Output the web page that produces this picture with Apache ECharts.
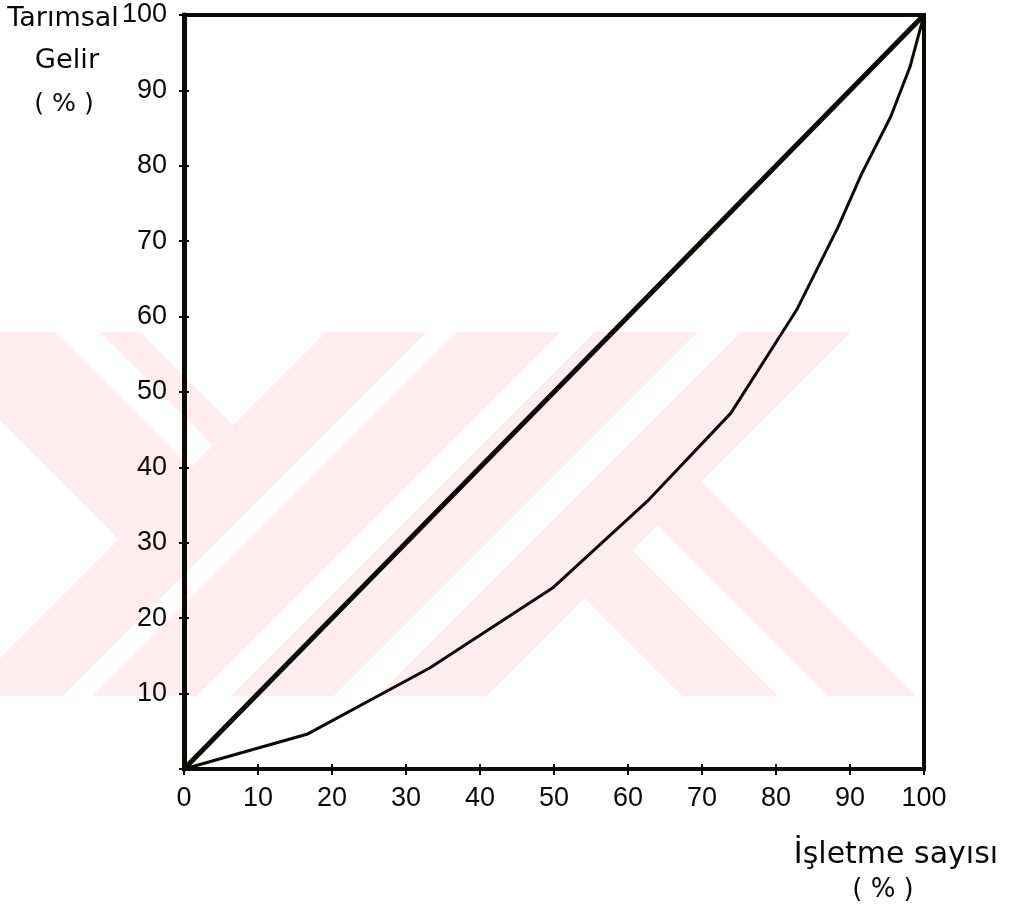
<!DOCTYPE html>
<html>
<head>
<meta charset="utf-8">
<script src="https://cdn.jsdelivr.net/npm/echarts@6/dist/echarts.min.js"></script>
<style>
  html, body { margin: 0; padding: 0; background: #ffffff; }
  #chart { width: 1017px; height: 908px; }
</style>
</head>
<body>
<div id="chart"></div>
<script>
// ---- data ----
const xTickValues = [0, 10, 20, 30, 40, 50, 60, 70, 80, 90, 100];
const xTickLabels = ['0', '10', '20', '30', '40', '50', '60', '70', '80', '90', '100'];
const yTickLabels = ['', '10', '20', '30', '40', '50', '60', '70', '80', '90', '100'];

const equalityFarms  = [0, 100];
const equalityIncome = [0, 100];

const lorenzFarms  = [0, 16.6, 33.2, 49.8, 62.8, 73.9, 82.8, 88.4, 91.6, 95.5, 98.1, 100];
const lorenzIncome = [0, 4.6, 13.4, 24.0, 35.7, 47.2, 60.9, 71.9, 79.0, 86.5, 93.1, 100];

const yTitleLines = ['Tarımsal', 'Gelir', '( % )'];
const xTitleLines = ['İşletme sayısı', '( % )'];

// ---- helpers ----
function zip(a, b) { return a.map((v, i) => [v, b[i]]); }
function labelFor(labels, v) {
  const i = xTickValues.indexOf(Math.round(v));
  return i >= 0 ? labels[i] : '';
}

const INK = '#0c0909';
const TICKFONT = 'Liberation Sans';
const TITLEFONT = 'DejaVu Sans';
const WM = '#fdedf0';

// faint background watermark (decoration only, in page pixels)
const wmPolys = [
  [[326,332],[427,332],[63,696],[-38,696]],
  [[457,332],[561,332],[197,696],[93,696]],
  [[595,332],[698,332],[334,696],[231,696]],
  [[741,332],[851,332],[487,696],[377,696]],
  [[-89,332],[55,332],[190.5,467.5],[118.5,539.5]],
  [[100,332],[140,332],[233,425],[213,445]],
  [[584.5,598.5],[632.5,550.5],[778,696],[682,696]],
  [[657.5,525.5],[701.5,481.5],[916,696],[828,696]]
];

const graphics = wmPolys.map(p => ({
  type: 'polygon', z: -100, silent: true,
  shape: { points: p },
  style: { fill: WM }
}));

function txt(text, x, y, size, sx) {
  return {
    type: 'text', x: x, y: y, scaleX: sx || 1, z: 100,
    style: { text: text, fill: INK, font: size + 'px "' + TITLEFONT + '"', textAlign: 'center', textVerticalAlign: 'middle' }
  };
}
graphics.push(txt(yTitleLines[0], 63, 19, 27, 1));
graphics.push(txt(yTitleLines[1], 67, 61, 26, 1.05));
graphics.push(txt(yTitleLines[2], 64, 105, 24, 1.05));
graphics.push(txt(xTitleLines[0], 896, 855, 30, 1));
graphics.push(txt(xTitleLines[1], 883, 890, 26, 1));

const baseAxis = {
  type: 'value', min: 0, max: 100, interval: 10,
  splitLine: { show: false }
};

const chart = echarts.init(document.getElementById('chart'), null, { renderer: 'canvas' });
chart.setOption({
  animation: false,
  backgroundColor: '#ffffff',
  grid: {
    left: 184, right: 93, top: 15, bottom: 139,
    show: true, borderColor: INK, borderWidth: 4, backgroundColor: 'transparent'
  },
  graphic: graphics,
  xAxis: [
    Object.assign({}, baseAxis, {
      position: 'bottom',
      axisLine: { show: true, lineStyle: { color: INK, width: 4 } },
      axisTick: { show: true, inside: false, length: 6, lineStyle: { color: INK, width: 2 } },
      axisLabel: {
        show: true, margin: 16, color: INK, fontSize: 27, fontFamily: TICKFONT,
        formatter: v => labelFor(xTickLabels, v)
      }
    }),
    Object.assign({}, baseAxis, {
      position: 'bottom',
      axisLine: { show: false },
      axisTick: { show: true, inside: true, length: 5, lineStyle: { color: INK, width: 2 } },
      axisLabel: { show: false }
    })
  ],
  yAxis: [
    Object.assign({}, baseAxis, {
      position: 'left',
      axisLine: { show: true, lineStyle: { color: INK, width: 5 } },
      axisTick: { show: true, inside: false, length: 5, lineStyle: { color: INK, width: 2 } },
      axisLabel: {
        show: true, margin: 17, color: INK, fontSize: 27, fontFamily: TICKFONT,
        formatter: v => labelFor(yTickLabels, v)
      }
    }),
    Object.assign({}, baseAxis, {
      position: 'left',
      axisLine: { show: false },
      axisTick: { show: true, inside: true, length: 5, lineStyle: { color: INK, width: 2 } },
      axisLabel: { show: false }
    })
  ],
  series: [
    {
      type: 'line', xAxisIndex: 0, yAxisIndex: 0,
      data: zip(equalityFarms, equalityIncome),
      symbol: 'none', silent: true,
      lineStyle: { color: INK, width: 5 }
    },
    {
      type: 'line', xAxisIndex: 0, yAxisIndex: 0,
      data: zip(lorenzFarms, lorenzIncome),
      symbol: 'none', silent: true, smooth: false,
      lineStyle: { color: INK, width: 3, join: 'round' }
    }
  ]
});
</script>
</body>
</html>
